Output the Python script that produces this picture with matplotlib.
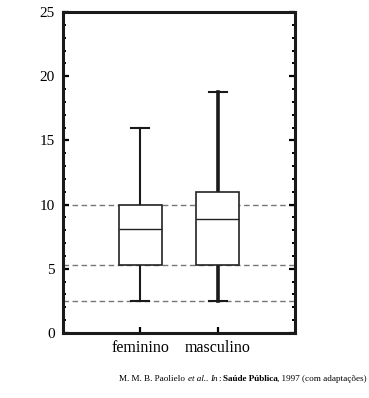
import matplotlib.pyplot as plt
from matplotlib.ticker import MultipleLocator

plt.rcParams['font.family'] = ['Liberation Serif', 'DejaVu Serif']

groups = ['feminino', 'masculino']
whisker_low = [2.5, 2.5]
q1 = [5.3, 5.3]
median = [8.1, 8.9]
q3 = [10.0, 11.0]
whisker_high = [16.0, 18.8]
ref_lines = [10.0, 5.3, 2.5]

# (text, style, weight, space before)
caption_parts = [
    ('M. M. B. Paolielo', 'normal', 'normal', False),
    ('et al.', 'italic', 'normal', True),
    ('.', 'normal', 'normal', False),
    ('In', 'italic', 'normal', True),
    (':', 'normal', 'normal', False),
    ('Saúde Pública', 'normal', 'bold', True),
    (', 1997 (com adaptações)', 'normal', 'normal', False),
]

fig = plt.figure(figsize=(3.69, 3.98), dpi=100)
ax = fig.add_axes([0.1707, 0.1633, 0.6288, 0.8065])

for y in ref_lines:
    ax.axhline(y, color='#777777', linestyle=(0, (4, 2.5)), linewidth=1.0, zorder=1)

stats = []
for i, g in enumerate(groups):
    stats.append(dict(label=g, whislo=whisker_low[i], q1=q1[i], med=median[i],
                      q3=q3[i], whishi=whisker_high[i], fliers=[]))

bp = ax.bxp(stats, positions=[1, 2], widths=0.56, patch_artist=True,
            boxprops=dict(facecolor='white', edgecolor='#222222', linewidth=1.2),
            medianprops=dict(color='#222222', linewidth=1.0),
            whiskerprops=dict(color='#1a1a1a', linewidth=1.5),
            capprops=dict(color='#1a1a1a', linewidth=1.5),
            capwidths=0.23)
for b in bp['boxes']:
    b.set_zorder(3)
for m in bp['medians']:
    m.set_zorder(4)
# thicker whiskers for the second group
for w in bp['whiskers'][2:]:
    w.set_linewidth(2.6)

ax.set_xlim(0, 3)
ax.set_ylim(0, 25)
ax.yaxis.set_major_locator(MultipleLocator(5))
ax.yaxis.set_minor_locator(MultipleLocator(1))
ax.tick_params(axis='y', which='major', direction='in', length=4, width=1.6,
               left=True, right=True, labelsize=11, pad=6)
ax.tick_params(axis='y', which='minor', direction='in', length=2.2, width=1.4,
               left=True, right=True)
ax.tick_params(axis='x', which='major', direction='in', length=4, width=1.6,
               labelsize=11.5, pad=5)
for s in ax.spines.values():
    s.set_linewidth(2.2)
    s.set_color('#1a1a1a')

# caption built from pieces, laid out left to right, right edge at 367 px
fig.canvas.draw()
renderer = fig.canvas.get_renderer()
fs = 6.6
space = fs * 0.25 * fig.dpi / 72
texts = []
x = 0
for txt, style, weight, gap in caption_parts:
    if gap:
        x += space
    t = fig.text(0, 0.048, txt, ha='left', va='center', fontsize=fs,
                 style=style, weight=weight)
    w = t.get_window_extent(renderer).width
    texts.append((t, x))
    x += w
start = 367 - x
for t, off in texts:
    t.set_x((start + off) / fig.bbox.width)

plt.savefig('out.png', dpi=100)
